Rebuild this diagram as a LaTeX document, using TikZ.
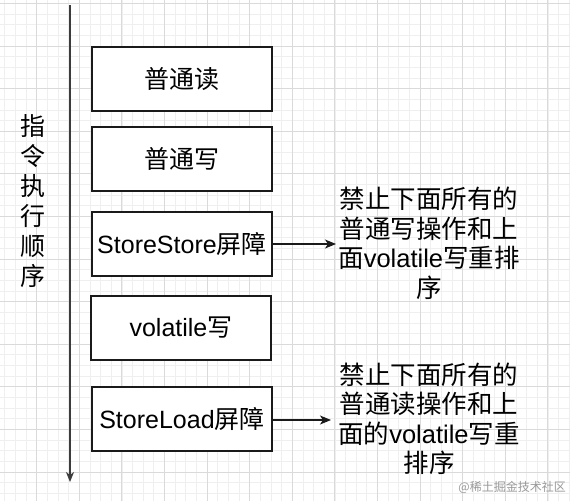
\documentclass[tikz,border=0pt]{standalone}
\usepackage{fontspec}
\setmainfont{Liberation Sans}
\newfontfamily\cjk{Noto Sans CJK SC}
\usetikzlibrary{arrows.meta}
\definecolor{minorgrid}{HTML}{EFEFEF}
\definecolor{majorgrid}{HTML}{DADADA}
\definecolor{ink}{HTML}{1A1A1A}
\tikzset{
  stepbox/.style={draw=ink, line width=1.3pt, fill=white, minimum width=180pt, minimum height=64pt, inner sep=0pt, font=\fontsize{25}{29}\selectfont},
  note/.style={align=center, inner sep=0pt, font=\fontsize{25.5}{29.5}\selectfont},
  conn/.style={draw=ink, line width=1.2pt, -{Stealth[length=11pt,width=9pt,inset=3pt]}},
}
\begin{document}
\begin{tikzpicture}[x=1pt,y=-1pt]
\useasboundingbox (0,0) rectangle (570,501);
\fill[white] (0,0) rectangle (570,501);
% grid
\foreach \i in {0,...,56} {
  \pgfmathsetmacro{\gx}{-6+\i*10.65}
  \draw[minorgrid, line width=0.6pt] (\gx,0) -- (\gx,501);
}
\foreach \i in {0,...,48} {
  \pgfmathsetmacro{\gy}{3.3-10.65+\i*10.65}
  \draw[minorgrid, line width=0.6pt] (0,\gy) -- (570,\gy);
}
\foreach \i in {0,...,14} {
  \pgfmathsetmacro{\gx}{-6+\i*42.6}
  \draw[majorgrid, line width=0.7pt] (\gx,0) -- (\gx,501);
}
\foreach \i in {0,...,12} {
  \pgfmathsetmacro{\gy}{3.3+\i*42.6}
  \draw[majorgrid, line width=0.7pt] (0,\gy) -- (570,\gy);
}
% time axis
\coordinate (axtop) at (70,5);
\coordinate (axbot) at (70,482);
\draw[draw=ink!85, line width=1.5pt, -{Stealth[length=10pt,width=8pt,inset=3pt]}] (axtop) -- (axbot);
\node[align=center, inner sep=0pt, font=\cjk\fontsize{25}{30}\selectfont] (order) at (33,201) {指\\令\\执\\行\\顺\\序};
% boxes
\node[stepbox] (b1) at (182,79) {\cjk 普通读};
\node[stepbox] (b2) at (182,159) {\cjk 普通写};
\node[stepbox] (b3) at (182,244) {StoreStore{\cjk 屏障}};
\node[stepbox] (b4) at (181,328) {volatile{\cjk 写}};
\node[stepbox] (b5) at (182,419) {StoreLoad{\cjk 屏障}};
% notes
\node[note] (n1) at (429,243.5) {{\cjk 禁止下面所有的}\\{\cjk 普通写操作和上}\\{\cjk 面}volatile{\cjk 写重排}\\{\cjk 序}};
\node[note] (n2) at (429,419) {{\cjk 禁止下面所有的}\\{\cjk 普通读操作和上}\\{\cjk 面的}volatile{\cjk 写重}\\{\cjk 排序}};
\coordinate (e1) at (336,244);
\coordinate (e2) at (331,420);
\draw[conn] (b3.east) -- (e1);
\draw[conn] (b5.east |- e2) -- (e2);
% watermark
\node[font=\cjk\fontsize{12}{14}\selectfont, text=black!40, anchor=east, inner sep=0pt] (wm) at (566,487) {@稀土掘金技术社区};
\end{tikzpicture}
\end{document}
